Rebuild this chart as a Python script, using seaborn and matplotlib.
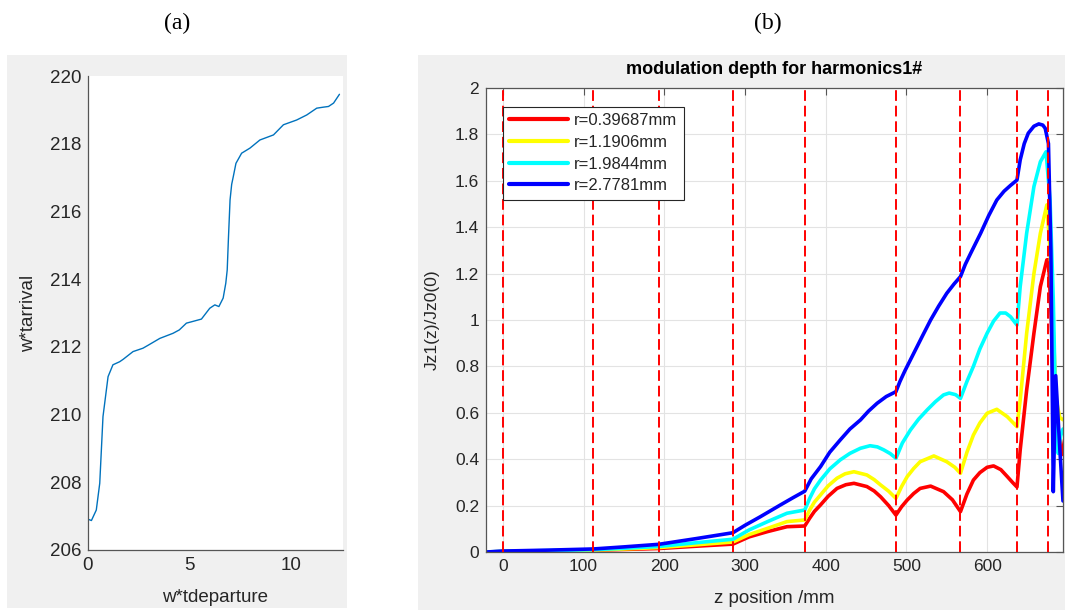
import matplotlib
matplotlib.use("Agg")
import matplotlib.pyplot as plt
import numpy as np
import pandas as pd
import seaborn as sns
from matplotlib.patches import Rectangle

# ---------------- panel (a) data ----------------
a_x = [0.0, 0.17, 0.41, 0.58, 0.74, 0.99, 1.23, 1.56, 1.73, 2.22, 2.71, 3.0, 3.54,
       4.19, 4.5, 4.85, 5.1, 5.59, 6.0, 6.25, 6.45, 6.66, 6.79, 6.86, 6.92, 7.0,
       7.08, 7.16, 7.29, 7.57, 7.98, 8.47, 9.14, 9.63, 10.28, 10.78, 11.27, 11.6,
       11.85, 12.1, 12.39]
a_y = [206.91, 206.87, 207.18, 207.97, 209.94, 211.12, 211.47, 211.56, 211.63,
       211.86, 211.96, 212.06, 212.25, 212.40, 212.50, 212.70, 212.74, 212.82,
       213.14, 213.24, 213.19, 213.44, 213.88, 214.27, 215.20, 216.34, 216.80,
       217.03, 217.42, 217.72, 217.87, 218.11, 218.26, 218.56, 218.70, 218.85,
       219.05, 219.08, 219.10, 219.20, 219.46]
a_xticks = [0, 5, 10]
a_yticks = [206, 208, 210, 212, 214, 216, 218, 220]

# ---------------- panel (b) data ----------------
series_labels = ["r=0.39687mm", "r=1.1906mm", "r=1.9844mm", "r=2.7781mm"]
series_colors = ["#ff0000", "#ffff00", "#00ffff", "#0000ff"]

red_z = [-20, 0, 56, 112, 150, 193, 240, 285, 305, 328, 352, 374, 380, 386, 393.6,
         403, 414, 425, 435, 451, 460, 468, 478, 487, 494, 501, 509, 517, 530,
         546, 557, 567, 575, 583, 591, 600, 608, 617, 625, 632, 637, 641, 649,
         658, 666, 674, 676, 679, 683, 687, 690, 694]
red_v = [0, 0.002, 0.004, 0.007, 0.011, 0.015, 0.025, 0.034, 0.065, 0.088, 0.109,
         0.112, 0.145, 0.175, 0.203, 0.240, 0.274, 0.290, 0.296, 0.282, 0.263,
         0.238, 0.200, 0.159, 0.195, 0.224, 0.252, 0.274, 0.284, 0.260, 0.225,
         0.174, 0.250, 0.310, 0.342, 0.365, 0.371, 0.355, 0.325, 0.298, 0.280,
         0.440, 0.698, 0.943, 1.144, 1.259, 1.260, 1.050, 0.600, 0.450, 0.500, 0.420]

yel_z = [-20, 0, 56, 112, 150, 193, 240, 285, 305, 328, 352, 374, 380, 386, 393.6,
         403, 414, 424, 435, 451, 460, 468, 478, 487, 494, 501, 509, 517, 534,
         550, 560, 567, 575, 583, 591, 600, 612, 625, 632, 637, 641, 649, 658,
         666, 674, 678, 682, 686, 690, 694]
yel_v = [0, 0.002, 0.005, 0.008, 0.013, 0.019, 0.031, 0.043, 0.075, 0.102, 0.131,
         0.138, 0.180, 0.215, 0.246, 0.285, 0.318, 0.337, 0.346, 0.332, 0.312,
         0.289, 0.262, 0.231, 0.282, 0.325, 0.360, 0.389, 0.414, 0.389, 0.365,
         0.339, 0.430, 0.504, 0.556, 0.598, 0.615, 0.583, 0.558, 0.540, 0.655,
         0.943, 1.200, 1.374, 1.496, 1.300, 0.943, 0.650, 0.580, 0.570]

cya_z = [-20, 0, 56, 112, 150, 193, 240, 285, 305, 328, 352, 374, 380, 386, 393.6,
         405, 418, 430, 443, 455, 464, 472, 480, 487, 495, 505, 515, 525.6, 536,
         546, 553, 561, 567, 575, 583, 591, 600, 608, 616, 623, 629, 637, 641,
         649, 658, 666, 673, 678, 682, 685, 688, 691, 694]
cya_v = [0, 0.003, 0.006, 0.010, 0.016, 0.024, 0.040, 0.055, 0.095, 0.131, 0.167,
         0.181, 0.230, 0.272, 0.310, 0.358, 0.397, 0.425, 0.447, 0.458, 0.453,
         0.440, 0.424, 0.404, 0.470, 0.526, 0.572, 0.612, 0.648, 0.677, 0.685,
         0.678, 0.662, 0.735, 0.800, 0.875, 0.943, 0.995, 1.030, 1.030, 1.014,
         0.978, 1.144, 1.374, 1.575, 1.682, 1.725, 1.517, 1.086, 0.600, 0.425,
         0.500, 0.530]

blu_z = [-20, 0, 56, 112, 150, 193, 240, 285, 300, 319, 344, 360, 374, 382, 393.6,
         405, 418, 430, 443, 453, 463.7, 475, 487, 492, 498, 509, 520, 530, 540,
         550, 559, 567, 573, 580, 592, 602, 612, 621, 629, 637, 641, 646, 651,
         658, 664, 669, 672, 676, 679, 682, 685, 690, 694]
blu_v = [0, 0.004, 0.008, 0.013, 0.022, 0.033, 0.058, 0.083, 0.115, 0.152, 0.203,
         0.235, 0.262, 0.315, 0.368, 0.430, 0.483, 0.530, 0.569, 0.607, 0.641,
         0.670, 0.691, 0.735, 0.780, 0.856, 0.932, 1.000, 1.060, 1.115, 1.155,
         1.187, 1.240, 1.290, 1.374, 1.450, 1.517, 1.555, 1.580, 1.603, 1.690,
         1.760, 1.805, 1.835, 1.845, 1.840, 1.826, 1.760, 1.300, 0.260, 0.760,
         0.450, 0.220]

boundaries = [0, 112, 193, 285, 374, 487, 567, 637, 676]
b_xticks = [0, 100, 200, 300, 400, 500, 600]
b_yticks = [0, 0.2, 0.4, 0.6, 0.8, 1.0, 1.2, 1.4, 1.6, 1.8, 2.0]
b_yticklabels = ["0", "0.2", "0.4", "0.6", "0.8", "1", "1.2", "1.4", "1.6", "1.8", "2"]

frames = []
for lab, zz, vv in zip(series_labels, [red_z, yel_z, cya_z, blu_z],
                       [red_v, yel_v, cya_v, blu_v]):
    frames.append(pd.DataFrame({"z": zz, "v": vv, "r": lab}))
df_b = pd.concat(frames, ignore_index=True)
df_a = pd.DataFrame({"x": a_x, "y": a_y})

# ---------------- style ----------------
sns.set_theme(style="white")
plt.rcParams['font.family'] = ['Liberation Sans', 'DejaVu Sans']
TXT = "#262626"
SPN = "#555555"

fig = plt.figure(figsize=(10.65, 6.1), dpi=100)
fig.patch.set_facecolor("white")
fig.patches.append(Rectangle((0.0066, 0.0033), 0.319, 0.9066, transform=fig.transFigure,
                             facecolor="#f0f0f0", edgecolor="none", zorder=-10))
fig.patches.append(Rectangle((0.3925, 0.0), 0.6075, 0.91, transform=fig.transFigure,
                             facecolor="#f0f0f0", edgecolor="none", zorder=-10))

axA = fig.add_axes([0.0826, 0.0984, 0.2395, 0.777])
axB = fig.add_axes([0.4563, 0.0951, 0.5418, 0.7607])

# ---- panel (a)
sns.lineplot(data=df_a, x="x", y="y", ax=axA, color="#0072BD", linewidth=1.0,
             estimator=None, sort=False)
axA.set_xlim(0, 4 * np.pi)
axA.set_ylim(206, 220)
axA.set_xticks(a_xticks)
axA.set_yticks(a_yticks)
axA.set_facecolor("white")
for s in ["top", "right"]:
    axA.spines[s].set_visible(False)
for s in ["left", "bottom"]:
    axA.spines[s].set_color(SPN)
    axA.spines[s].set_linewidth(0.9)
axA.tick_params(direction="in", length=4, width=0.8, color=SPN, labelsize=13.5,
                labelcolor=TXT, pad=5)
axA.set_xlabel("w*tdeparture", fontsize=13.5, color=TXT)
axA.set_ylabel("w*tarrival", fontsize=13.5, color=TXT)
axA.xaxis.set_label_coords(0.5, -0.082)
axA.yaxis.set_label_coords(-0.2, 0.5)

# ---- panel (b)
sns.lineplot(data=df_b, x="z", y="v", hue="r", hue_order=series_labels,
             palette=dict(zip(series_labels, series_colors)), linewidth=2.6,
             estimator=None, sort=False, ax=axB)
for b in boundaries:
    axB.axvline(b, color="#ff0000", linestyle=(0, (5.5, 2.5)), linewidth=1.4, zorder=5)
axB.set_xlim(-21, 694)
axB.set_ylim(0, 2)
axB.set_xticks(b_xticks)
axB.set_yticks(b_yticks)
axB.set_yticklabels(b_yticklabels)
axB.set_facecolor("white")
axB.grid(True, color="#e3e3e3", linewidth=0.8)
axB.set_axisbelow(True)
for s in axB.spines.values():
    s.set_color(SPN)
    s.set_linewidth(0.9)
axB.tick_params(direction="in", length=5, width=0.8, color=SPN, labelsize=12.5,
                labelcolor=TXT, pad=5, top=True, right=True)
axB.set_xlabel("z position /mm", fontsize=13.5, color=TXT)
axB.set_ylabel("Jz1(z)/Jz0(0)", fontsize=12.5, color=TXT)
axB.xaxis.set_label_coords(0.5, -0.082)
axB.yaxis.set_label_coords(-0.08, 0.5)
axB.set_title("modulation depth for harmonics1#", fontsize=13, fontweight="bold",
              color="black", pad=10)

handles, lbls = axB.get_legend_handles_labels()
leg = axB.legend(handles, lbls, loc="upper left", bbox_to_anchor=(0.029, 0.96),
                 borderaxespad=0, frameon=True, fancybox=False, framealpha=1,
                 edgecolor=TXT, fontsize=12, handlelength=3.5, handletextpad=0.4,
                 labelspacing=0.4, borderpad=0.4)
leg.get_frame().set_linewidth(0.8)
for ln in leg.get_lines():
    ln.set_linewidth(3)
for t in leg.get_texts():
    t.set_color(TXT)

fig.text(0.166, 0.962, "(a)", family=["Liberation Serif", "DejaVu Serif"], fontsize=17,
         ha="center", va="center", color="black")
fig.text(0.721, 0.962, "(b)", family=["Liberation Serif", "DejaVu Serif"], fontsize=17,
         ha="center", va="center", color="black")

fig.savefig("out.png", dpi=100, facecolor="white")
